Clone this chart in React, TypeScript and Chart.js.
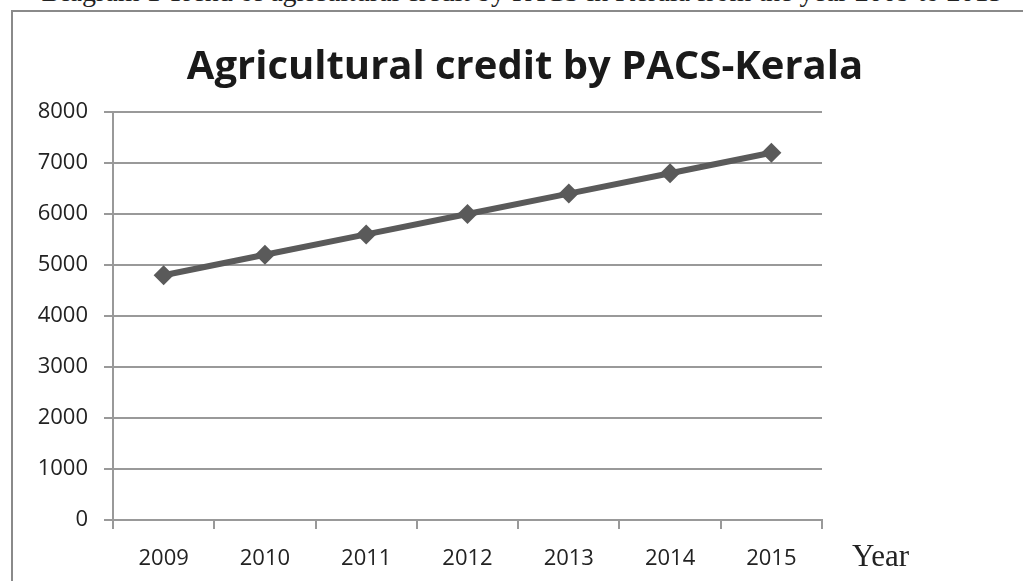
import React, { useEffect, useRef } from "react";
import { Chart, registerables } from "chart.js";

Chart.register(...registerables);

const categories = ["2009", "2010", "2011", "2012", "2013", "2014", "2015"];
const creditValues = [4800, 5200, 5600, 6000, 6400, 6800, 7200];
const yTicks = [0, 1000, 2000, 3000, 4000, 5000, 6000, 7000, 8000];
const chartTitle = "Agricultural credit by PACS-Kerala";
const caption = "Diagram 1 Trend of agricultural credit by PACS in Kerala from the year 2009 to 2015";
const xAxisLabel = "Year";

export default function App() {
  const ref = useRef<HTMLCanvasElement | null>(null);

  useEffect(() => {
    document.body.style.margin = "0";
    document.body.style.overflow = "hidden";
    const ctx = ref.current!;
    const chart = new Chart(ctx, {
      type: "line",
      data: {
        labels: categories,
        datasets: [
          {
            label: "Agricultural credit",
            data: creditValues,
            borderColor: "#5a5a5a",
            backgroundColor: "#5a5a5a",
            borderWidth: 6,
            pointStyle: "rectRot",
            pointRadius: 10,
            pointHoverRadius: 10,
            pointBorderWidth: 0,
            tension: 0,
          },
        ],
      },
      options: {
        animation: false,
        responsive: false,
        maintainAspectRatio: false,
        layout: { padding: { left: 13, right: 201, top: 112, bottom: 0 } },
        plugins: {
          legend: { display: false },
          tooltip: { enabled: false },
          title: { display: false },
        },
        scales: {
          x: {
            type: "category",
            offset: true,
            grid: {
              offset: true,
              drawOnChartArea: false,
              drawTicks: true,
              tickLength: 9,
              color: "#999999",
              lineWidth: 2,
            },
            border: { display: true, color: "#999999", width: 2 },
            ticks: {
              color: "#222222",
              font: { family: "Open Sans", size: 22 },
              padding: 17,
            },
            afterFit: (scale: any) => {
              scale.height = 61;
            },
          },
          y: {
            type: "linear",
            min: 0,
            max: 8000,
            afterBuildTicks: (scale: any) => {
              scale.ticks = yTicks.map((v) => ({ value: v }));
            },
            grid: {
              drawOnChartArea: true,
              drawTicks: true,
              tickLength: 9,
              color: "#999999",
              lineWidth: 2,
            },
            border: { display: true, color: "#999999", width: 2 },
            ticks: {
              color: "#222222",
              font: { family: "Open Sans", size: 22 },
              padding: 16,
              callback: (v: any) => String(v),
            },
            afterFit: (scale: any) => {
              scale.width = 100;
            },
          },
        },
      },
    });
    return () => chart.destroy();
  }, []);

  return (
    <div style={{ position: "relative", width: 1023, height: 581, overflow: "hidden", background: "#fff" }}>
      <div
        style={{
          position: "absolute",
          left: 0,
          width: 1044,
          top: -24,
          textAlign: "center",
          fontFamily: "Liberation Serif",
          fontSize: 28,
          color: "#222",
          whiteSpace: "nowrap",
        }}
      >
        {caption}
      </div>
      <div
        style={{
          position: "absolute",
          left: 11,
          top: 10,
          width: 1030,
          height: 600,
          border: "2px solid #8a8a8a",
          boxSizing: "border-box",
        }}
      />
      <canvas ref={ref} width={1023} height={581} style={{ position: "absolute", left: 0, top: 0, width: 1023, height: 581 }} />
      <div
        style={{
          position: "absolute",
          left: 0,
          width: 1050,
          top: 36,
          textAlign: "center",
          fontFamily: "Open Sans",
          fontWeight: "bold",
          fontSize: 40,
          color: "#1a1a1a",
          whiteSpace: "nowrap",
        }}
      >
        {chartTitle}
      </div>
      <div
        style={{
          position: "absolute",
          left: 852,
          top: 538,
          fontFamily: "Liberation Serif",
          fontSize: 31,
          color: "#222",
          whiteSpace: "nowrap",
        }}
      >
        {xAxisLabel}
      </div>
    </div>
  );
}
